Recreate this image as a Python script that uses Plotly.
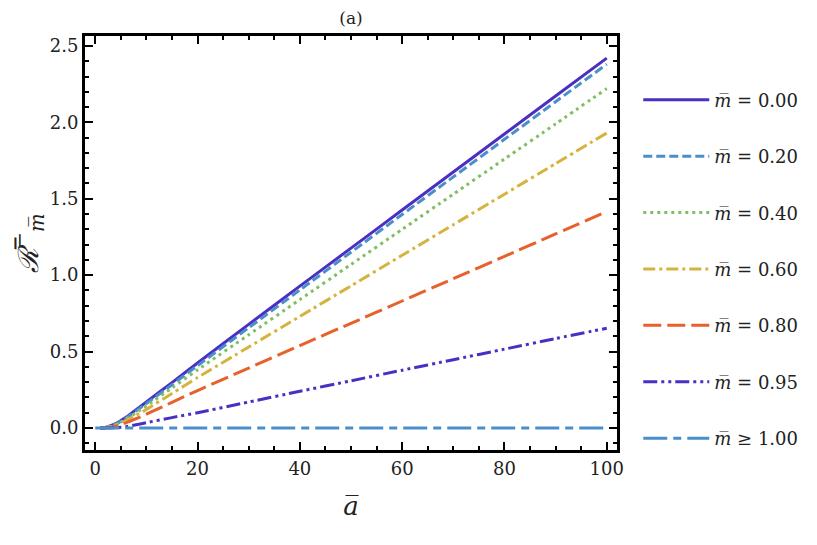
import plotly.graph_objects as go

a_vals = [1, 2, 4, 6, 8, 10, 15, 20, 30, 40, 50, 60, 70, 80, 90, 100]

r_m000 = [0.0, 0.004, 0.028, 0.070, 0.120, 0.170, 0.297, 0.425, 0.678, 0.928, 1.177, 1.426, 1.675, 1.924, 2.172, 2.420]
r_m020 = [0.0, 0.003, 0.025, 0.065, 0.112, 0.160, 0.283, 0.408, 0.656, 0.903, 1.150, 1.397, 1.643, 1.889, 2.135, 2.381]
r_m040 = [0.0, 0.003, 0.022, 0.058, 0.100, 0.145, 0.262, 0.380, 0.610, 0.840, 1.070, 1.300, 1.530, 1.760, 1.990, 2.221]
r_m060 = [0.0, 0.002, 0.018, 0.048, 0.084, 0.122, 0.226, 0.330, 0.530, 0.730, 0.930, 1.130, 1.330, 1.530, 1.730, 1.930]
r_m080 = [0.0, 0.001, 0.012, 0.034, 0.061, 0.090, 0.168, 0.245, 0.392, 0.539, 0.685, 0.831, 0.977, 1.123, 1.270, 1.416]
r_m095 = [0.0, 0.000, 0.002, 0.009, 0.021, 0.035, 0.068, 0.100, 0.170, 0.240, 0.309, 0.378, 0.447, 0.516, 0.585, 0.653]
a_m100 = [0, 100]
r_m100 = [0.0, 0.0]

labels = ["<i>m̅</i> = 0.00", "<i>m̅</i> = 0.20", "<i>m̅</i> = 0.40", "<i>m̅</i> = 0.60",
          "<i>m̅</i> = 0.80", "<i>m̅</i> = 0.95", "<i>m̅</i> ≥ 1.00"]
series = [(a_vals, r_m000), (a_vals, r_m020), (a_vals, r_m040), (a_vals, r_m060),
          (a_vals, r_m080), (a_vals, r_m095), (a_m100, r_m100)]
colors = ["#4a2fc2", "#4a8fcb", "#80bf60", "#d4b43c", "#e8612c", "#4a2fc2", "#4a8fcb"]
dashes = ["solid", "9px,4px", "3px,4px", "12px,4px,3px,4px", "18px,6px",
          "14px,4px,3px,4px,3px,4px", "24px,6px,8px,6px"]

fig = go.Figure()
for i, ((xs, ys), lab, col, dsh) in enumerate(zip(series, labels, colors, dashes)):
    fig.add_trace(go.Scatter(x=xs, y=ys, mode="lines", name=lab, legendgroup=str(i),
                             line=dict(color=col, width=3, dash=dsh, shape="spline", smoothing=0.6)))

font_fam = "DejaVu Serif, Liberation Serif, Times New Roman, serif"
fig.update_layout(
    width=817, height=545,
    margin=dict(l=77, r=208, t=28, b=103),
    plot_bgcolor="white", paper_bgcolor="white",
    font=dict(family=font_fam, size=18, color="#222"),
    title=dict(text="(a)", x=343 / 817, xanchor="center", y=1 - 10 / 545, yanchor="middle",
               font=dict(size=17, color="#222", family=font_fam)),
    legend=dict(x=1.04, xanchor="left", y=0.89, yanchor="top", tracegroupgap=30,
                itemwidth=66, font=dict(size=18, color="#222", family=font_fam),
                bgcolor="rgba(0,0,0,0)"),
    xaxis=dict(range=[-2, 102], tickvals=[0, 20, 40, 60, 80, 100], ticks="inside", ticklen=8,
               tickwidth=2, tickcolor="black", showline=True, linewidth=3, linecolor="black",
               mirror="allticks", showgrid=False, zeroline=False,
               tickfont=dict(size=18, color="#222", family=font_fam),
               minor=dict(dtick=5, ticks="inside", ticklen=4, tickwidth=2, tickcolor="black", showgrid=False),
               title=dict(text="<i>a̅</i>", font=dict(size=26, color="#222", family=font_fam), standoff=20)),
    yaxis=dict(range=[-0.144, 2.565], tickvals=[0, 0.5, 1.0, 1.5, 2.0, 2.5], tickformat=".1f",
               ticks="inside", ticklen=8, tickwidth=2, tickcolor="black", showline=True, linewidth=3,
               linecolor="black", mirror="allticks", showgrid=False, zeroline=False,
               tickfont=dict(size=18, color="#222", family=font_fam),
               minor=dict(dtick=0.1, tick0=0, ticks="inside", ticklen=4, tickwidth=2, tickcolor="black", showgrid=False),
               title=dict(text="<i>ℛ̅</i><sup>−</sup><sub><i>m̅</i></sub>",
                          font=dict(size=28, color="#222", family=font_fam), standoff=8)),
)

fig.write_html("out.html")
